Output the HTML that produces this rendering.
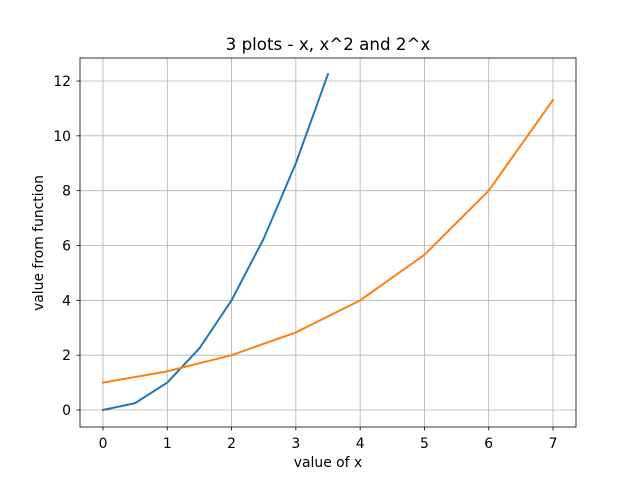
<!DOCTYPE html>
<html><head><meta charset="utf-8"><style>
html,body{margin:0;padding:0;background:#fff;}
svg{display:block;font-family:"DejaVu Sans","Liberation Sans",sans-serif;}
</style></head><body>
<svg id="chart" width="640" height="480" viewBox="0 0 640 480">
<rect width="640" height="480" fill="#fff"/>
<g id="grid"></g>
<g id="series"></g>
<rect x="80" y="58" width="496" height="369" fill="none" stroke="#000" stroke-width="0.8"/>
<g id="ticks"></g>
<text x="328" y="50" text-anchor="middle" font-size="16.7">3 plots - x, x^2 and 2^x</text>
<text x="328" y="467" text-anchor="middle" font-size="13.9">value of x</text>
<text x="0" y="0" transform="translate(43,243) rotate(-90)" text-anchor="middle" font-size="13.9">value from function</text>
</svg>
<script>
const xTicks=[0,1,2,3,4,5,6,7];
const yTicks=[0,2,4,6,8,10,12];
const blueX=[0,0.5,1,1.5,2,2.5,3,3.5];
const blueY=[0,0.25,1,2.25,4,6.25,9,12.25];
const orangeX=[0,1,2,3,4,5,6,7];
const orangeY=[1,1.41,2,2.83,4,5.66,8,11.31];
function sx(v){return 103+v*(553-103)/7;}
function sy(v){return 410-v*(410-81)/12;}
const NS="http://www.w3.org/2000/svg";
const grid=document.getElementById('grid'),ticks=document.getElementById('ticks'),series=document.getElementById('series');
function mk(tag,attrs,parent){const e=document.createElementNS(NS,tag);for(const k in attrs)e.setAttribute(k,attrs[k]);parent.appendChild(e);return e;}
xTicks.forEach(t=>{
  const x=sx(t);
  const g=mk('line',{x1:x,x2:x,y1:58,y2:427,stroke:'#b0b0b0','stroke-width':0.8},grid);
  
  
  const tk=mk('line',{x1:x,x2:x,y1:427,y2:430.5,stroke:'#000','stroke-width':0.8},ticks);
  
  
  const tx=mk('text',{x:x,y:448,'text-anchor':'middle','font-size':13.9},ticks);
  tx.textContent=t;
  
  
});
yTicks.forEach(t=>{
  const y=sy(t);
  const g=mk('line',{x1:80,x2:576,y1:y,y2:y,stroke:'#b0b0b0','stroke-width':0.8},grid);
  
  
  const tk=mk('line',{x1:76.5,x2:80,y1:y,y2:y,stroke:'#000','stroke-width':0.8},ticks);
  
  
  const tx=mk('text',{x:71,y:y+5,'text-anchor':'end','font-size':13.9},ticks);
  tx.textContent=t;
  
  
});
function line(xs,ys,color,name){
  const p=mk('polyline',{points:xs.map((x,i)=>sx(x)+','+sy(ys[i])).join(' '),fill:'none',stroke:color,'stroke-width':2,'stroke-linejoin':'round','stroke-linecap':'square'},series);
  
  
}
line(blueX,blueY,'#1f77b4','line-x-squared');
line(orangeX,orangeY,'#ff7f0e','line-exponential');
</script>
</body></html>
